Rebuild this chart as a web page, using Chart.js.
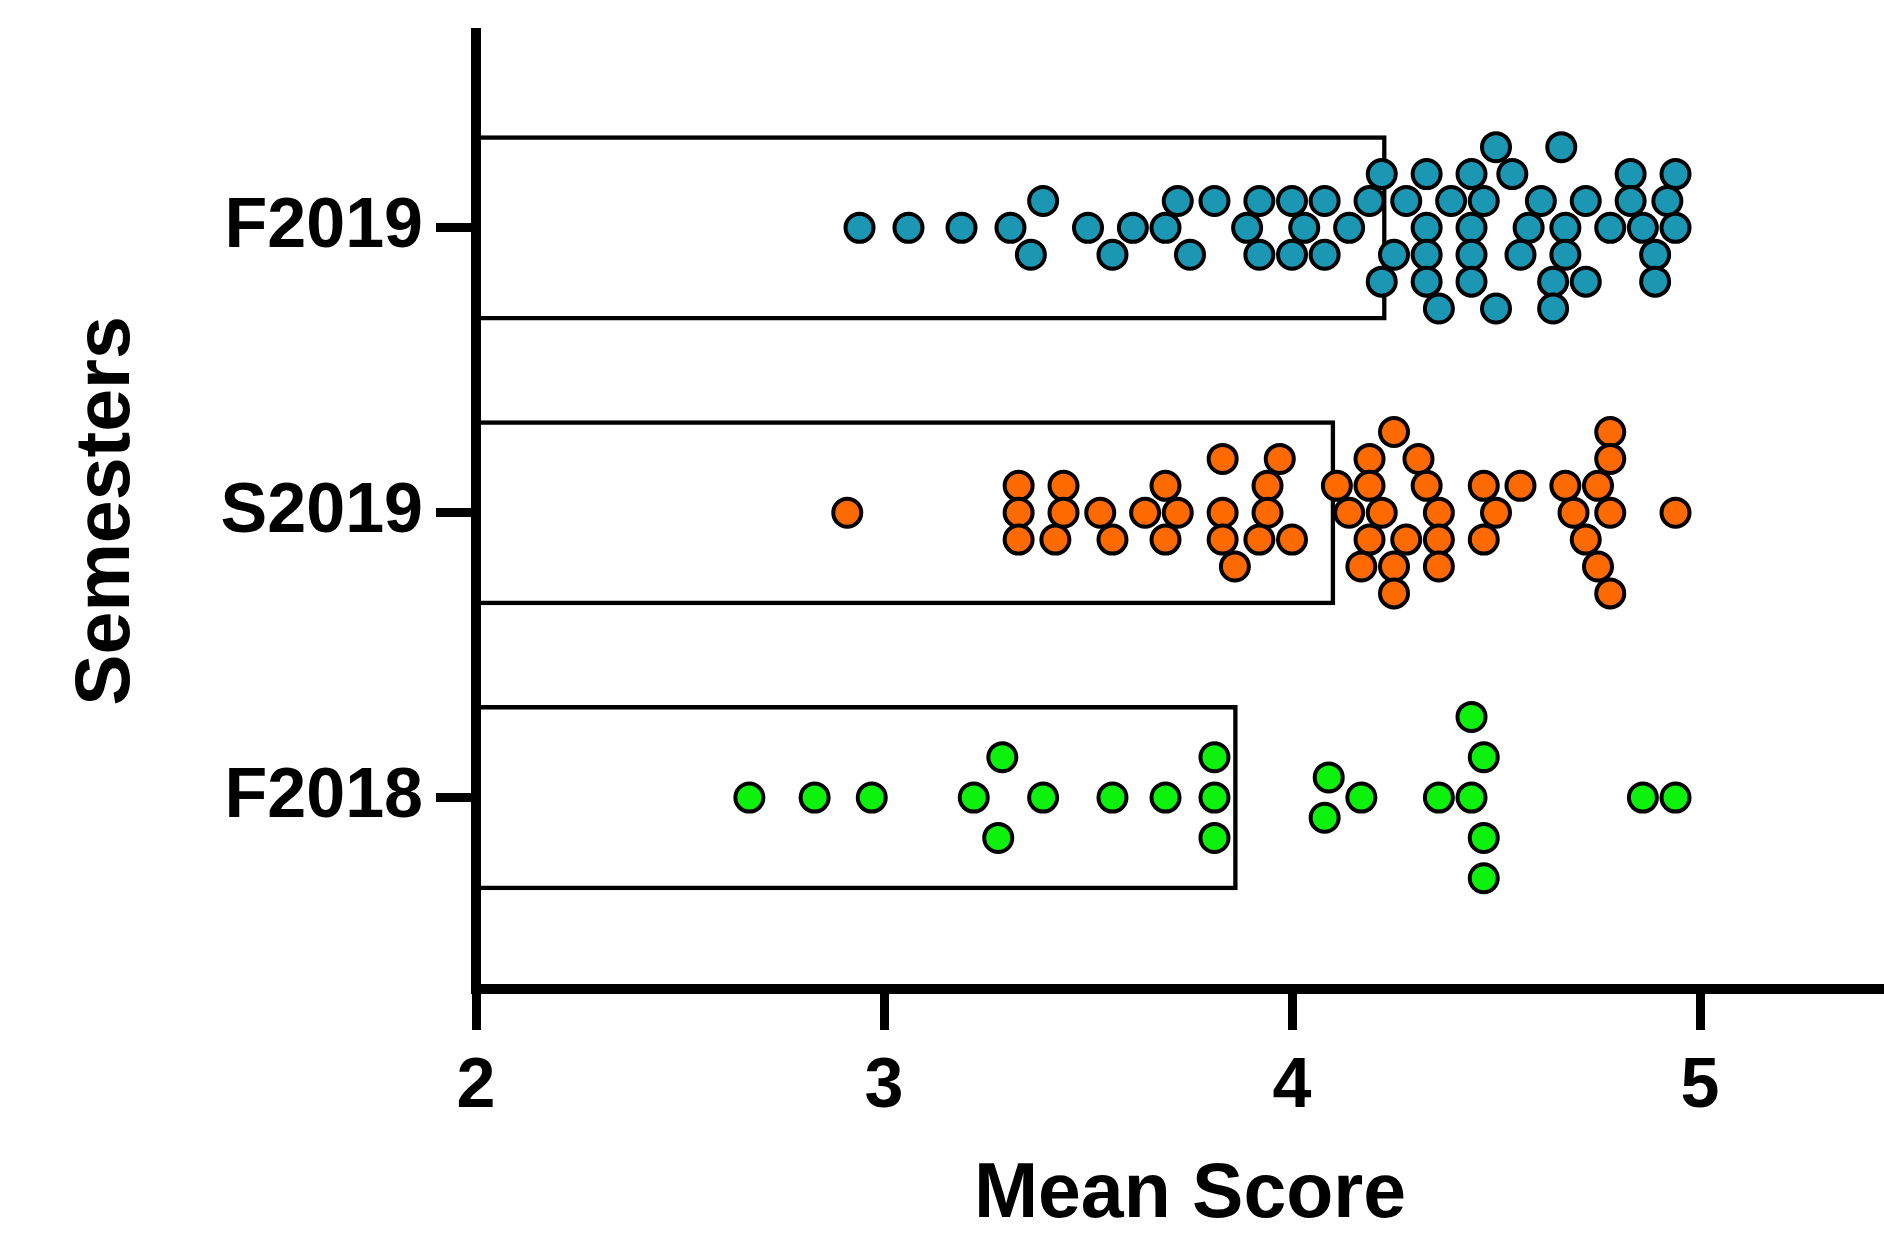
<!DOCTYPE html>
<html>
<head>
<meta charset="utf-8">
<script src="https://cdn.jsdelivr.net/npm/chart.js@4.4.0/dist/chart.umd.min.js"></script>
<style>
html, body { margin: 0; padding: 0; background: #ffffff; overflow: hidden; }
canvas { display: block; }
</style>
</head>
<body>
<canvas id="chart" width="1904" height="1237"></canvas>
<script>
// Categories from bottom (index 0) to top
const categories = ['F2018', 'S2019', 'F2019'];
const means = [3.867, 4.106, 4.232];
const xTicks = [2, 3, 4, 5];

const f2019Scores = [2.94, 3.06, 3.19, 3.31, 3.39, 3.36, 3.50, 3.56, 3.61, 3.69, 3.72, 3.81, 3.75, 3.89, 3.92, 3.92,
  4.00, 4.08, 4.00, 4.08, 4.03, 4.14, 4.19, 4.22, 4.25, 4.22, 4.28, 4.33, 4.33, 4.33, 4.33, 4.36, 4.39, 4.44, 4.47,
  4.44, 4.44, 4.44, 4.50, 4.50, 4.54, 4.61, 4.58, 4.56, 4.64, 4.64, 4.66, 4.72, 4.67, 4.67, 4.72, 4.83, 4.83, 4.78,
  4.86, 4.89, 4.89, 4.94, 4.92, 4.94];
const f2019Lanes = [0, 0, 0, 0, 1, -1, 0, -1, 0, 0, 1, 1, -1, 0, 1, -1,
  1, 1, -1, -1, 0, 0, 1, 2, -1, -2, 1, 2, 0, -1, -2, -3, 1, 2, 1,
  0, -1, -2, 3, -3, 2, 1, 0, -1, -2, -3, 3, 1, 0, -1, -2, 2, 1, 0,
  0, -1, -2, 2, 1, 0];

const s2019Scores = [2.91, 3.33, 3.33, 3.33, 3.44, 3.44, 3.42, 3.53, 3.56, 3.64, 3.69, 3.72, 3.69, 3.83, 3.83, 3.83,
  3.86, 3.94, 3.94, 3.92, 3.97, 4.00, 4.11, 4.14, 4.19, 4.19, 4.22, 4.25, 4.19, 4.17, 4.28, 4.25, 4.25, 4.31, 4.33,
  4.36, 4.36, 4.36, 4.47, 4.56, 4.50, 4.47, 4.67, 4.75, 4.78, 4.78, 4.69, 4.78, 4.72, 4.75, 4.78, 4.94];
const s2019Lanes = [0, 1, 0, -1, 1, 0, -1, 0, -1, 0, 1, 0, -1, 2, 0, -1,
  -2, 1, 0, -1, 2, -1, 1, 0, 2, 1, 0, 3, -1, -2, -1, -2, -3, 2, 1,
  0, -1, -2, 1, 1, 0, -1, 1, 1, 3, 2, 0, 0, -1, -2, -3, 0];

const f2018Scores = [2.67, 2.83, 2.97, 3.22, 3.29, 3.28, 3.39, 3.56, 3.69, 3.81, 3.81, 3.81, 4.09, 4.08, 4.17,
  4.36, 4.44, 4.47, 4.44, 4.47, 4.47, 4.86, 4.94];
const f2018Lanes = [0, 0, 0, 0, 1.5, -1.5, 0, 0, 0, 1.5, 0, -1.5, 0.75, -0.75, 0,
  0, 3, 1.5, 0, -1.5, -3, 0, 0];

const LANE_STEP = 0.0944;
const FONT = "'Liberation Sans', Arial, Helvetica, sans-serif";

function pts(scores, lanes, catIndex) {
  return scores.map((s, i) => ({ x: s, y: catIndex + lanes[i] * LANE_STEP }));
}

Chart.defaults.font.family = FONT;
Chart.defaults.color = '#000000';

const pointStyle = (color) => ({
  pointRadius: 14,
  pointHoverRadius: 14,
  pointBorderWidth: 4,
  pointBorderColor: '#000000',
  pointBackgroundColor: color,
  order: 0
});

new Chart(document.getElementById('chart'), {
  type: 'scatter',
  data: {
    datasets: [
      Object.assign({ type: 'scatter', label: 'F2019', data: pts(f2019Scores, f2019Lanes, 2) }, pointStyle('#1B97B3')),
      Object.assign({ type: 'scatter', label: 'S2019', data: pts(s2019Scores, s2019Lanes, 1) }, pointStyle('#FF6A00')),
      Object.assign({ type: 'scatter', label: 'F2018', data: pts(f2018Scores, f2018Lanes, 0) }, pointStyle('#0DF20D')),
      {
        type: 'bar',
        label: 'Mean',
        indexAxis: 'y',
        data: means.map((m, i) => ({ x: m, y: i })),
        backgroundColor: 'rgba(255,255,255,0)',
        borderColor: '#000000',
        borderWidth: 4.5,
        borderSkipped: 'start',
        categoryPercentage: 1,
        barPercentage: 0.65,
        order: 1
      }
    ]
  },
  options: {
    responsive: false,
    animation: false,
    events: [],
    layout: { autoPadding: false, padding: { top: 33, left: 0, right: 0, bottom: 0 } },
    plugins: { legend: { display: false }, tooltip: { enabled: false } },
    scales: {
      x: {
        type: 'linear',
        min: 2,
        max: 5.5,
        offset: false,
        afterBuildTicks: (s) => { s.ticks = xTicks.map(v => ({ value: v })); },
        afterFit: (s) => { s.height = 248; s.paddingLeft = 0; s.paddingRight = 0; },
        ticks: {
          color: '#000000',
          padding: 16,
          font: { size: 70, weight: 'bold', family: FONT },
          callback: (v) => String(v),
          maxRotation: 0,
          autoSkip: false
        },
        grid: { drawOnChartArea: false, offset: false, color: '#000000', lineWidth: 9, tickLength: 41 },
        border: { display: true, color: '#000000', width: 10, z: 1 },
        title: {
          display: true,
          text: 'Mean Score',
          color: '#000000',
          font: { size: 77, weight: 'bold', family: FONT, lineHeight: 1 },
          padding: { top: 0, bottom: 3 }
        }
      },
      y: {
        type: 'linear',
        min: -0.672,
        max: 2.684,
        offset: false,
        afterBuildTicks: (s) => { s.ticks = categories.map((c, i) => ({ value: i })); },
        afterFit: (s) => { s.width = 476; s.paddingTop = 0; s.paddingBottom = 0; },
        ticks: {
          color: '#000000',
          padding: 13,
          font: { size: 70, weight: 'bold', family: FONT },
          callback: (v) => categories[Math.round(v)],
          autoSkip: false
        },
        grid: { drawOnChartArea: false, offset: false, color: '#000000', lineWidth: 9, tickLength: 40 },
        border: { display: true, color: '#000000', width: 10, z: 1 },
        title: {
          display: true,
          text: 'Semesters',
          color: '#000000',
          font: { size: 77, weight: 'bold', family: FONT, lineHeight: 1 },
          padding: { top: 69.5, bottom: 0 }
        }
      }
    }
  }
});
</script>
</body>
</html>
